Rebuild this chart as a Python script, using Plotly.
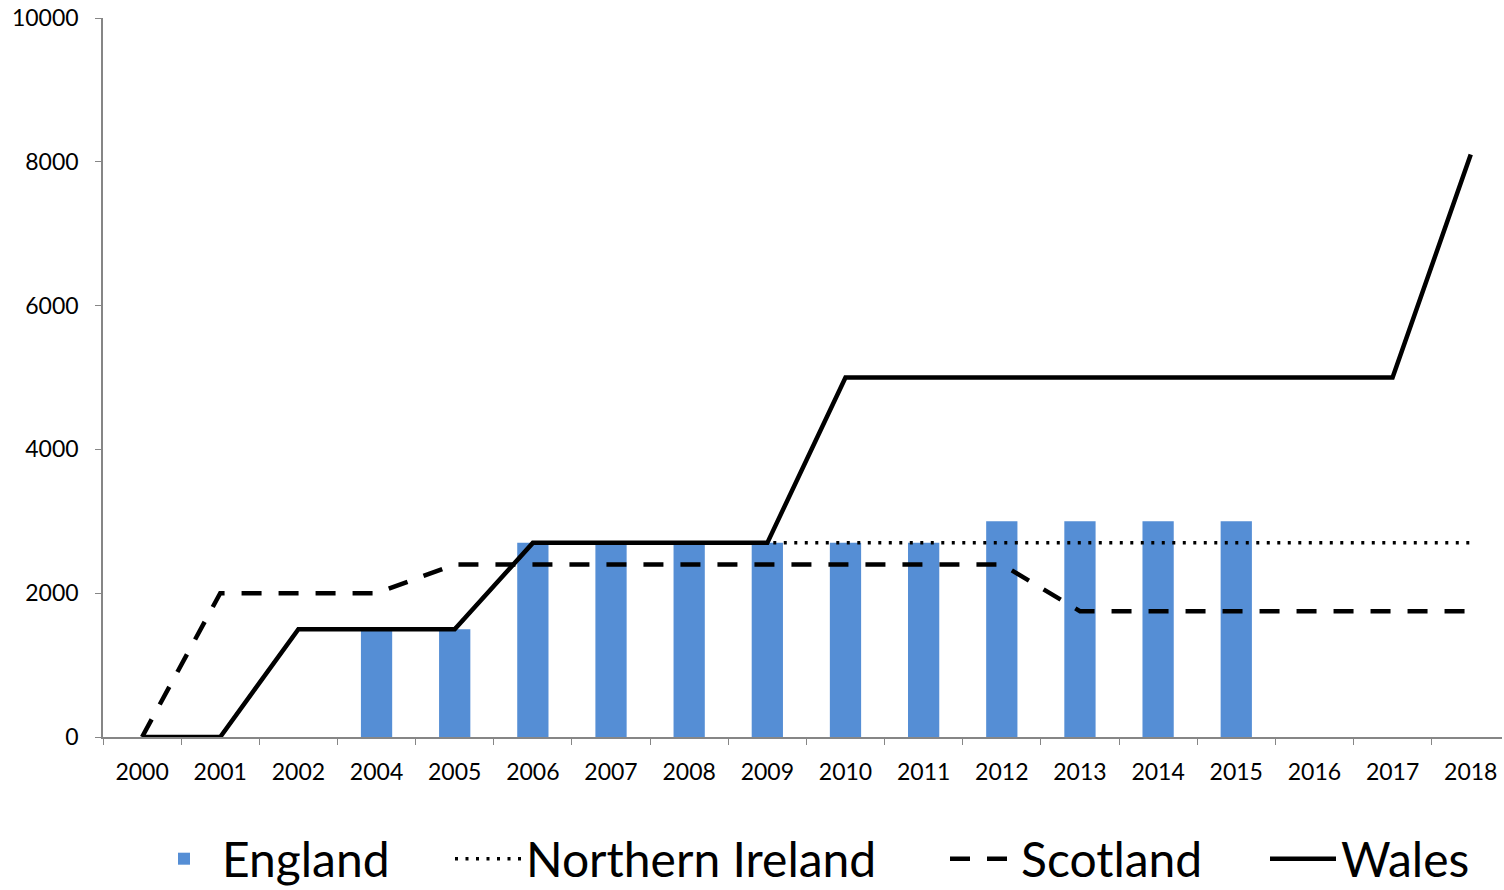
import plotly.graph_objects as go

years = ["2000", "2001", "2002", "2004", "2005", "2006", "2007", "2008", "2009",
         "2010", "2011", "2012", "2013", "2014", "2015", "2016", "2017", "2018"]
england = [None, None, None, 1500, 1500, 2700, 2700, 2700, 2700,
           2700, 2700, 3000, 3000, 3000, 3000, None, None, None]
northern_ireland = [0, 0, 1500, 1500, 1500, 2700, 2700, 2700, 2700,
                    2700, 2700, 2700, 2700, 2700, 2700, 2700, 2700, 2700]
scotland = [0, 2000, 2000, 2000, 2400, 2400, 2400, 2400, 2400,
            2400, 2400, 2400, 1750, 1750, 1750, 1750, 1750, 1750]
wales = [0, 0, 1500, 1500, 1500, 2700, 2700, 2700, 2700,
         5000, 5000, 5000, 5000, 5000, 5000, 5000, 5000, 8100]

FONT = "Lato"
LEG_FONT = dict(size=48, family=FONT, color="black")

fig = go.Figure()
fig.add_trace(go.Bar(x=years, y=england, name="England", legend="legend",
                     marker=dict(color="#558ED5", line=dict(width=0)), width=0.4))
fig.add_trace(go.Scatter(x=years, y=northern_ireland, name="Northern Ireland", mode="lines",
                         legend="legend2",
                         line=dict(color="black", width=3.5, dash="3px,7.5px")))
fig.add_trace(go.Scatter(x=years, y=scotland, name="Scotland", mode="lines",
                         legend="legend3",
                         line=dict(color="black", width=4.5, dash="20px,17px")))
fig.add_trace(go.Scatter(x=years, y=wales, name="Wales", mode="lines",
                         legend="legend4",
                         line=dict(color="black", width=4.5)))


def leg(xpx):
    return dict(orientation="h", xref="container", yref="container",
                x=xpx / 1504, xanchor="left", y=(890 - 859) / 890, yanchor="middle",
                font=LEG_FONT, itemwidth=66, bgcolor="rgba(0,0,0,0)")


fig.update_layout(
    width=1504, height=890,
    margin=dict(l=103, r=2, t=18, b=153),
    plot_bgcolor="white", paper_bgcolor="white",
    font=dict(family=FONT, color="black", size=23),
    showlegend=True,
    legend=leg(146),
    legend2=leg(450),
    legend3=leg(945),
    legend4=leg(1265),
    bargap=0.6,
)
fig.update_xaxes(type="category", range=[-0.5, 17.4], showline=True, linecolor="#868686",
                 linewidth=1.5, ticks="outside", tickson="boundaries", ticklen=6,
                 tickcolor="#868686", showgrid=False, tickfont=dict(size=23, family=FONT),
                 ticklabelstandoff=14)
fig.update_yaxes(range=[0, 10000], dtick=2000, tickformat="d", showline=True,
                 linecolor="#868686", linewidth=1.5, ticks="outside", ticklen=6,
                 tickcolor="#868686", showgrid=False, zeroline=False,
                 tickfont=dict(size=23, family=FONT), ticklabelstandoff=12)

fig.write_html("out.html")
